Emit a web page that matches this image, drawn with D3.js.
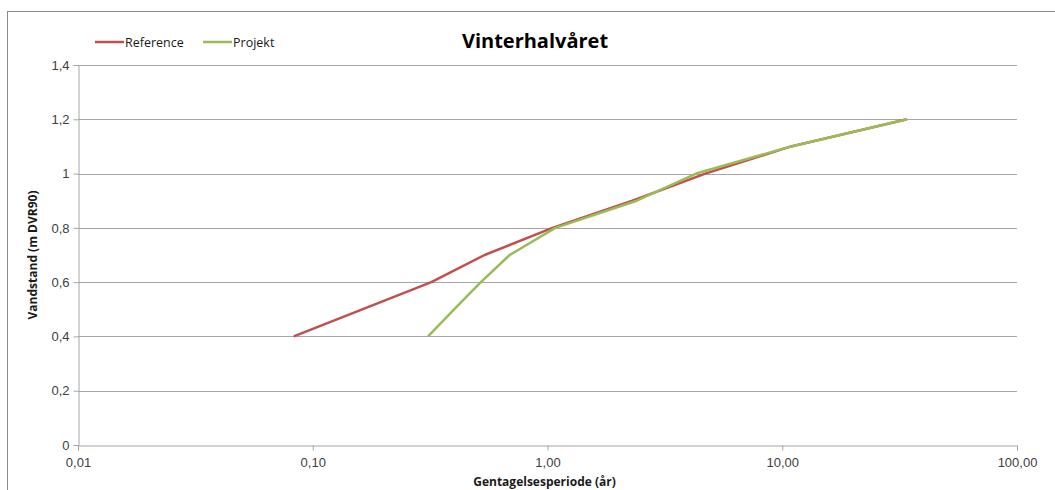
<!DOCTYPE html>
<html>
<head>
<meta charset="utf-8">
<script src="https://cdn.jsdelivr.net/npm/d3@7"></script>
<style>
  body { margin: 0; background: #fff; }
  svg { display: block; font-family: "Open Sans", "Noto Sans", sans-serif; }
</style>
</head>
<body>
<svg id="chart" width="1055" height="490"></svg>
<script>
// series (return period in years, water level in m DVR90)
const referencePeriods = [0.083, 0.32, 0.54, 1.05, 2.3, 4.7, 10.9, 34];
const referenceLevels  = [0.4,   0.6,  0.7,  0.8,  0.9, 1.0, 1.1,  1.2];
const projektPeriods   = [0.31, 0.40, 0.52, 0.69, 1.08, 2.4, 4.3, 10.9, 34];
const projektLevels    = [0.4,  0.5,  0.6,  0.7,  0.8,  0.9, 1.0, 1.1,  1.2];
const xTicks = [0.01, 0.1, 1, 10, 100];
const yTicks = [0, 0.2, 0.4, 0.6, 0.8, 1, 1.2, 1.4];
const seriesNames = ["Reference", "Projekt"];
const seriesColors = ["#c0504d", "#9bbb59"];

const svg = d3.select("#chart");
const margin = { left: 78, right: 38, top: 65, bottom: 45 };
const width = 1055, height = 490;

// outer chart frame (runs past the picture on right/bottom)
svg.append("rect")
  .attr("x", 7.5).attr("y", 11.5)
  .attr("width", 1100).attr("height", 600)
  .attr("fill", "none").attr("stroke", "#8c8c8c").attr("stroke-width", 1);

const x = d3.scaleLog().domain([0.01, 100]).range([margin.left, width - margin.right]);
const y = d3.scaleLinear().domain([0, 1.4]).range([height - margin.bottom, margin.top]);

const comma = s => s.replace(".", ",");

// gridlines
svg.append("g")
  .selectAll("line")
  .data(yTicks.filter(d => d > 0))
  .join("line")
  .attr("x1", margin.left).attr("x2", width - margin.right)
  .attr("y1", d => Math.round(y(d)) + 0.5).attr("y2", d => Math.round(y(d)) + 0.5)
  .attr("stroke", "#a6a6a6").attr("stroke-width", 1);

// y axis
const yAxis = svg.append("g")
  .attr("transform", `translate(${margin.left + 0.5},0)`)
  .call(d3.axisLeft(y).tickValues(yTicks).tickSize(5).tickPadding(4)
    .tickFormat(d => comma(String(+d.toFixed(1)))));
yAxis.select(".domain").attr("stroke", "#a6a6a6");
yAxis.selectAll(".tick line").attr("stroke", "#a6a6a6");
yAxis.selectAll(".tick text").attr("fill", "#404040").attr("font-size", 13);

// x axis
const xAxis = svg.append("g")
  .attr("transform", `translate(0,${Math.round(y(0)) + 0.5})`)
  .call(d3.axisBottom(x).tickValues(xTicks).tickSize(5).tickPadding(7)
    .tickFormat(d => comma(d.toFixed(2))));
xAxis.select(".domain").attr("stroke", "#a6a6a6");
xAxis.selectAll(".tick line").attr("stroke", "#a6a6a6");
xAxis.selectAll(".tick text").attr("fill", "#404040").attr("font-size", 13);

// axis titles
svg.append("text")
  .attr("transform", `translate(37,${(y(0) + y(1.4)) / 2}) rotate(-90)`)
  .attr("text-anchor", "middle")
  .attr("font-size", 12).attr("font-weight", "bold").attr("fill", "#1a1a1a")
  .text("Vandstand (m DVR90)");

svg.append("text")
  .attr("x", (x(0.01) + x(100)) / 2 - 3).attr("y", 486)
  .attr("text-anchor", "middle")
  .attr("font-size", 12).attr("font-weight", "bold").attr("fill", "#1a1a1a")
  .text("Gentagelsesperiode (år)");

// title
svg.append("text")
  .attr("x", 535).attr("y", 48)
  .attr("text-anchor", "middle")
  .attr("font-size", 20).attr("font-weight", "bold").attr("fill", "#000")
  .text("Vinterhalvåret");

// lines
const line = d3.line().x(d => x(d[0])).y(d => y(d[1]));
const series = [
  d3.zip(referencePeriods, referenceLevels),
  d3.zip(projektPeriods, projektLevels)
];
svg.append("g")
  .selectAll("path")
  .data(series)
  .join("path")
  .attr("d", line)
  .attr("fill", "none")
  .attr("stroke", (d, i) => seriesColors[i])
  .attr("stroke-width", 2.5)
  .attr("stroke-linejoin", "round");

// legend
const legendX = [95, 203];
const legend = svg.append("g");
seriesNames.forEach((name, i) => {
  legend.append("line")
    .attr("x1", legendX[i]).attr("x2", legendX[i] + 29)
    .attr("y1", 42).attr("y2", 42)
    .attr("stroke", seriesColors[i]).attr("stroke-width", 2.5);
  legend.append("text")
    .attr("x", legendX[i] + 30).attr("y", 46.5)
    .attr("font-size", 12.5).attr("fill", "#1a1a1a")
    .text(name);
});
</script>
</body>
</html>
